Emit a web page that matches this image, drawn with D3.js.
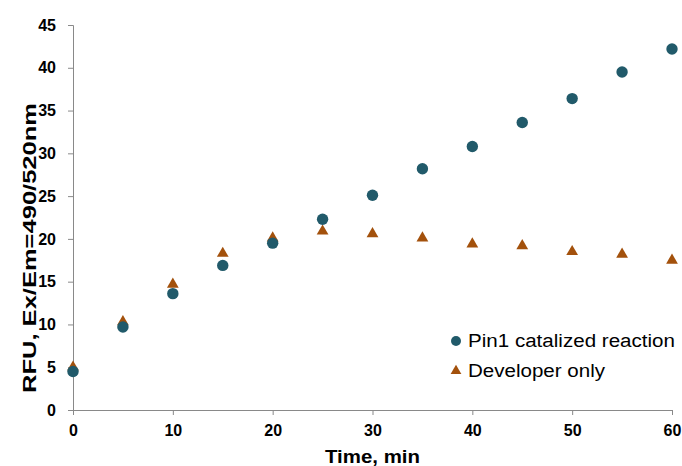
<!DOCTYPE html>
<html>
<head>
<meta charset="utf-8">
<script src="https://cdn.jsdelivr.net/npm/d3@7"></script>
<style>
  body { margin: 0; background: #fff; }
  text { font-family: "Liberation Sans", Arial, sans-serif; }
</style>
</head>
<body>
<svg width="682" height="466"></svg>
<script>
// data
const times = [0, 5, 10, 15, 20, 25, 30, 35, 40, 45, 50, 55, 60]
const pin1 = [4.5, 9.7, 13.6, 16.9, 19.5, 22.3, 25.1, 28.2, 30.8, 33.6, 36.4, 39.5, 42.2]
const developer = [5.0, 10.3, 14.7, 18.3, 20.1, 20.9, 20.6, 20.1, 19.4, 19.2, 18.5, 18.2, 17.5]
const xTicks = [0, 10, 20, 30, 40, 50, 60]
const yTicks = [0, 5, 10, 15, 20, 25, 30, 35, 40, 45]

const svg = d3.select("svg")
const margin = { top: 25, right: 10, bottom: 56, left: 73 }

const xScale = d3.scaleLinear().domain([0, 60]).range([margin.left, 672])
const yScale = d3.scaleLinear().domain([0, 45]).range([410, margin.top])

const axisColor = "#898989"

// axes
const xAxisG = svg.append("g")
    .attr("transform", `translate(0,${yScale(0)})`)
    .call(d3.axisBottom(xScale).tickValues(xTicks).tickSize(5).tickPadding(10))
const yAxisG = svg.append("g")
    .attr("transform", `translate(${xScale(0)},0)`)
    .call(d3.axisLeft(yScale).tickValues(yTicks).tickSize(5).tickPadding(12))

;[xAxisG, yAxisG].forEach(a => {
    a.select(".domain").attr("stroke", axisColor)
    a.selectAll(".tick line").attr("stroke", axisColor)
    a.selectAll(".tick text")
        .attr("fill", "#000")
        .style("font-size", "16px")
        .style("font-weight", "bold")
        .style("font-family", "Liberation Sans, Arial, sans-serif")
})

// axis titles
svg.append("text")
    .attr("x", (xScale(0) + xScale(60)) / 2)
    .attr("y", 463)
    .attr("text-anchor", "middle")
    .attr("textLength", 95)
    .attr("lengthAdjust", "spacingAndGlyphs")
    .style("font-size", "19px")
    .style("font-weight", "bold")
    .text("Time, min")

svg.append("text")
    .attr("transform", `translate(36,248) rotate(-90)`)
    .attr("text-anchor", "middle")
    .attr("textLength", 290)
    .attr("lengthAdjust", "spacingAndGlyphs")
    .style("font-size", "19px")
    .style("font-weight", "bold")
    .text("RFU, Ex/Em=490/520nm")

// data points
const circleColor = "#215A6A"
const triColor = "#A3510C"
const tri = d3.symbol().type(d3.symbolTriangle).size(60)

svg.append("g").selectAll("path").data(times)
    .enter().append("path")
    .attr("d", tri)
    .attr("transform", (d, i) => `translate(${xScale(d)},${yScale(developer[i])})`)
    .attr("fill", triColor)

svg.append("g").selectAll("circle").data(times)
    .enter().append("circle")
    .attr("cx", d => xScale(d))
    .attr("cy", (d, i) => yScale(pin1[i]))
    .attr("r", 5.7)
    .attr("fill", circleColor)

// legend
svg.append("circle").attr("cx", 456).attr("cy", 341).attr("r", 5).attr("fill", circleColor)
svg.append("path").attr("d", d3.symbol().type(d3.symbolTriangle).size(50))
    .attr("transform", "translate(456,371)").attr("fill", triColor)
svg.append("text").attr("x", 468).attr("y", 347).attr("textLength", 207)
    .attr("lengthAdjust", "spacingAndGlyphs").style("font-size", "18px").text("Pin1 catalized reaction")
svg.append("text").attr("x", 468).attr("y", 377).attr("textLength", 137)
    .attr("lengthAdjust", "spacingAndGlyphs").style("font-size", "18px").text("Developer only")
</script>
</body>
</html>
